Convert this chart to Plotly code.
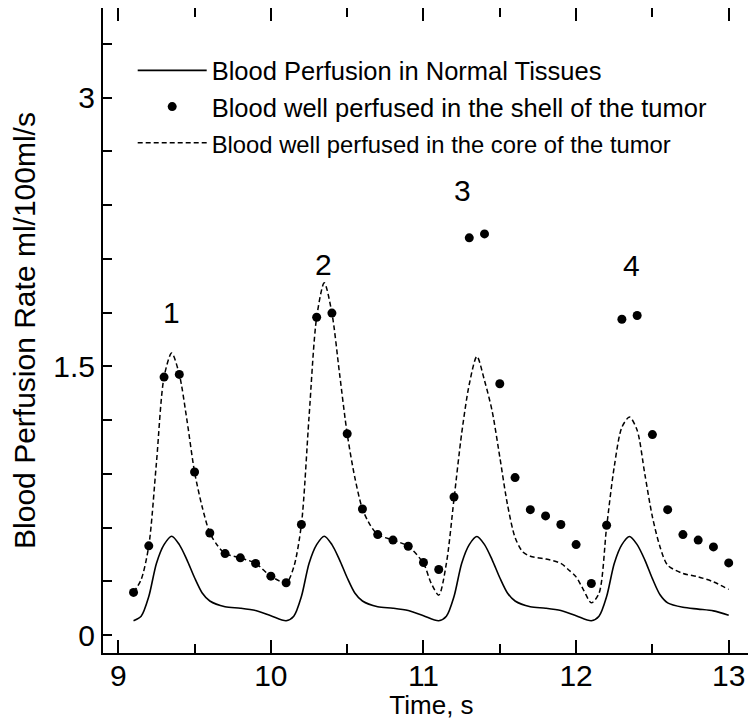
import plotly.graph_objects as go
from plotly.subplots import make_subplots

# ---------------- data ----------------
normal_time = [9.10, 9.15, 9.20, 9.25, 9.30, 9.35, 9.40, 9.45, 9.50, 9.55, 9.60, 9.70, 9.80, 9.90, 10.00,
               10.10, 10.15, 10.20, 10.25, 10.30, 10.35, 10.40, 10.45, 10.50, 10.55, 10.60, 10.70, 10.80, 10.90, 11.00,
               11.10, 11.15, 11.20, 11.25, 11.30, 11.35, 11.40, 11.45, 11.50, 11.55, 11.60, 11.70, 11.80, 11.90, 12.00,
               12.10, 12.15, 12.20, 12.25, 12.30, 12.35, 12.40, 12.45, 12.50, 12.55, 12.60, 12.70, 12.80, 12.90, 13.00]
normal_rate = [0.080, 0.105, 0.215, 0.400, 0.505, 0.552, 0.505, 0.420, 0.320, 0.235, 0.190, 0.158, 0.150, 0.137, 0.108,
               0.080, 0.105, 0.215, 0.400, 0.505, 0.552, 0.505, 0.420, 0.320, 0.235, 0.190, 0.158, 0.150, 0.137, 0.108,
               0.080, 0.105, 0.215, 0.400, 0.505, 0.550, 0.505, 0.420, 0.320, 0.235, 0.190, 0.158, 0.150, 0.137, 0.108,
               0.080, 0.105, 0.215, 0.400, 0.505, 0.550, 0.505, 0.420, 0.315, 0.225, 0.180, 0.155, 0.145, 0.135, 0.111]

shell_time = [9.1, 9.2, 9.3, 9.4, 9.5, 9.6, 9.7, 9.8, 9.9, 10.0,
              10.1, 10.2, 10.3, 10.4, 10.5, 10.6, 10.7, 10.8, 10.9, 11.0,
              11.1, 11.2, 11.3, 11.4, 11.5, 11.6, 11.7, 11.8, 11.9, 12.0,
              12.1, 12.2, 12.3, 12.4, 12.5, 12.6, 12.7, 12.8, 12.9, 13.0]
shell_rate = [0.238, 0.498, 1.440, 1.455, 0.910, 0.570, 0.455, 0.431, 0.400, 0.329,
              0.292, 0.617, 1.774, 1.797, 1.124, 0.704, 0.561, 0.530, 0.496, 0.405,
              0.366, 0.771, 2.217, 2.239, 1.403, 0.879, 0.700, 0.665, 0.617, 0.505,
              0.288, 0.613, 1.763, 1.784, 1.119, 0.700, 0.561, 0.530, 0.492, 0.403]

core_time = [9.10, 9.15, 9.20, 9.25, 9.30, 9.35, 9.40, 9.45, 9.50, 9.55, 9.60, 9.65, 9.70, 9.80, 9.90, 10.00,
             10.10, 10.15, 10.20, 10.25, 10.30, 10.35, 10.40, 10.45, 10.50, 10.55, 10.60, 10.65, 10.70, 10.80, 10.90, 11.00,
             11.05, 11.10, 11.15, 11.20, 11.25, 11.30, 11.35, 11.40, 11.45, 11.50, 11.55, 11.60, 11.65, 11.70, 11.80, 11.90,
             11.95, 12.00, 12.05, 12.10, 12.15, 12.20, 12.25, 12.30, 12.35, 12.40, 12.45, 12.50, 12.55, 12.60, 12.70, 12.80,
             12.90, 13.00]
core_rate = [0.238, 0.310, 0.498, 0.960, 1.440, 1.574, 1.455, 1.200, 0.910, 0.715, 0.570, 0.500, 0.455, 0.431, 0.400, 0.329,
             0.292, 0.380, 0.617, 1.217, 1.774, 1.966, 1.797, 1.459, 1.124, 0.880, 0.704, 0.615, 0.561, 0.530, 0.496, 0.400,
             0.290, 0.223, 0.400, 0.760, 1.124, 1.400, 1.555, 1.420, 1.250, 0.994, 0.730, 0.545, 0.465, 0.440, 0.425, 0.400,
             0.365, 0.325, 0.250, 0.180, 0.233, 0.604, 0.940, 1.160, 1.217, 1.143, 0.900, 0.660, 0.492, 0.390, 0.344, 0.325,
             0.297, 0.255]

peak_labels = ["1", "2", "3", "4"]
peak_label_time = [9.35, 10.343, 11.258, 12.364]
peak_label_rate = [1.803, 2.069, 2.482, 2.065]

y_tickvals = [0, 1.5, 3]
y_ticktext = ["0", "1.5", "3"]

legend_names = ["Blood Perfusion in Normal Tissues",
                "Blood well perfused in the shell of the tumor",
                "Blood well perfused in the core of the tumor"]

FONT = "Liberation Sans, Arial, Helvetica, sans-serif"
CLEAR = "rgba(0,0,0,0)"
X_RANGE = [8.9, 13.205]
Y_RANGE = [-0.1, 3.5]

fig = make_subplots(rows=1, cols=1)
fig.add_trace(go.Scatter(x=normal_time, y=normal_rate, mode="lines", name=legend_names[0],
                         line=dict(color="black", width=1.6, shape="spline", smoothing=0.8)), row=1, col=1)
fig.add_trace(go.Scatter(x=shell_time, y=shell_rate, mode="markers", name=legend_names[1],
                         marker=dict(color="black", size=9)), row=1, col=1)
fig.add_trace(go.Scatter(x=core_time, y=core_rate, mode="lines",
                         name='<span style="font-size:23.8px">' + legend_names[2] + '</span>',
                         line=dict(color="black", width=1.5, dash="5px,3px", shape="spline", smoothing=0.8)),
              row=1, col=1)

for lab, tx, ty in zip(peak_labels, peak_label_time, peak_label_rate):
    fig.add_annotation(x=tx, y=ty, xref="x", yref="y", text=lab, showarrow=False,
                       font=dict(family=FONT, size=30, color="black"))

# The page body has an 8px margin; the reference frame's right edge lies just past the
# visible window, so the figure is made to run slightly past the right edge.
fig.update_layout(
    template="none",
    width=752, height=712,
    margin=dict(l=95, r=0, t=0, b=67),
    paper_bgcolor="white", plot_bgcolor="white",
    font=dict(family=FONT, color="black"),
    showlegend=True,
    legend=dict(x=0.0452, y=0.939, xanchor="left", yanchor="top",
                bgcolor=CLEAR, font=dict(family=FONT, size=25.5, color="black"),
                itemwidth=69, tracegroupgap=0),
)

fig.update_xaxes(range=X_RANGE, tickmode="linear", tick0=9, dtick=1,
                 ticks="inside", ticklen=13, tickwidth=2, tickcolor="black",
                 minor=dict(dtick=0.5, tick0=9, ticks="inside", ticklen=9, tickwidth=2,
                            tickcolor="black", showgrid=False),
                 showline=True, linewidth=2, linecolor="black", mirror="ticks",
                 showgrid=False, zeroline=False, ticklabelstandoff=-5,
                 tickfont=dict(family=FONT, size=30, color="black"),
                 title=dict(text="Time, s", font=dict(family=FONT, size=26, color="black"), standoff=2))
fig.update_yaxes(range=Y_RANGE, tickmode="array", tickvals=y_tickvals, ticktext=y_ticktext,
                 ticks="inside", ticklen=9, tickwidth=2, tickcolor="black",
                 minor=dict(dtick=0.3, tick0=0, ticks="inside", ticklen=9, tickwidth=2,
                            tickcolor="black", showgrid=False),
                 showline=True, linewidth=2, linecolor="black", mirror="ticks",
                 showgrid=False, zeroline=False,
                 tickfont=dict(family=FONT, size=30, color="black"),
                 title=dict(text="Blood Perfusion Rate ml/100ml/s",
                            font=dict(family=FONT, size=30, color="black"), standoff=11))

fig.write_html("out.html")
